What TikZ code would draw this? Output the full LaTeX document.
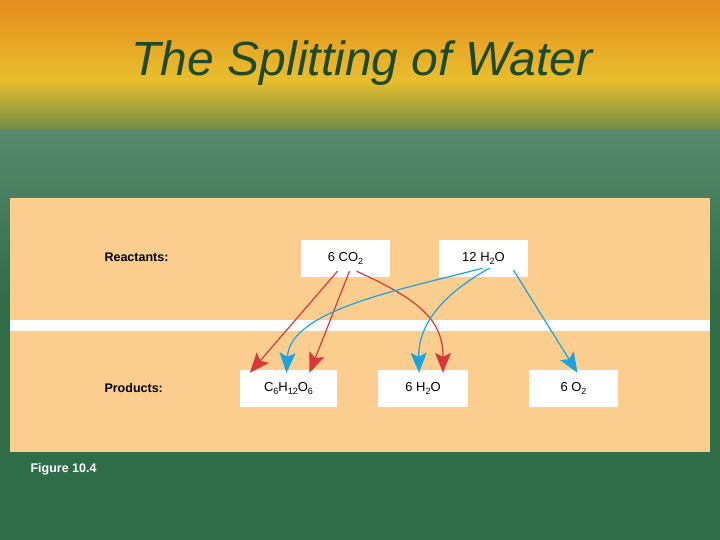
\documentclass[tikz,border=0pt]{standalone}
\usepackage{fontspec}
\setmainfont{Liberation Sans}
\usetikzlibrary{arrows.meta,calc}
\definecolor{peach}{HTML}{FBCD8F}
\definecolor{bggreen}{HTML}{2F6D49}
\definecolor{ttl}{HTML}{1E4A2A}
\definecolor{redA}{HTML}{D8383A}
\definecolor{blueA}{HTML}{1AA3DC}
\newcommand{\sbs}[1]{\raisebox{-2.5pt}{\fontsize{9}{10}\selectfont #1}}
\begin{document}
\begin{tikzpicture}[x=1pt,y=-1pt,
  box/.style={fill=white,minimum width=89pt,minimum height=37pt,inner sep=0pt,font=\fontsize{13}{15}\selectfont},
  lbl/.style={font=\bfseries\fontsize{12.5}{14}\selectfont,anchor=west},
  ra/.style={draw=redA,line width=1.2pt,-{Stealth[length=20pt,width=16pt,inset=4pt,fill=redA]}},
  ba/.style={draw=blueA,line width=1.2pt,-{Stealth[length=20pt,width=16pt,inset=4pt,fill=blueA]}}]
\useasboundingbox (0,0) rectangle (720,540);
\fill[bggreen] (0,0) rectangle (720,540);
\shade[top color=bggreen!80!white,bottom color=bggreen] (0,128) rectangle (720,300);
\shade[top color={rgb,255:red,230;green,140;blue,30},bottom color={rgb,255:red,232;green,190;blue,45}] (0,0) rectangle (720,80);
\shade[top color={rgb,255:red,232;green,190;blue,45},bottom color={rgb,255:red,110;green,140;blue,70}] (0,80) rectangle (720,130);
\node[font=\itshape\fontsize{48}{54}\selectfont,text=ttl] (title) at (362,63) {The Splitting of Water};
\fill[peach] (10,198) rectangle (710,452);
\fill[white] (10,320) rectangle (710,331);
\node[lbl] (react) at (101,257) {Reactants:};
\node[lbl] (prod) at (101,388) {Products:};
\node[lbl,text=white] (fig) at (27,469) {Figure 10.4};
\node[box] (co2) at (345.5,258.5) {6 CO\sbs{2}};
\node[box] (h2o) at (483.5,258.5) {12 H\sbs{2}O};
\node[box,minimum width=97pt] (glu) at (288.5,388.5) {C\sbs{6}H\sbs{12}O\sbs{6}};
\node[box,minimum width=90pt] (wat) at (423,388.5) {6 H\sbs{2}O};
\node[box] (o2) at (573.5,388.5) {6 O\sbs{2}};
\draw[ra] ($(co2.south)+(-8,-6)$) -- ($(glu.north west)+(10,3)$);
\draw[ra] ($(co2.south)+(4,-6)$) -- ($(glu.north)+(21,3)$);
\draw[ra] ($(co2.south)+(11,-6)$) .. controls (420,300) and (443,320) .. ($(wat.north)+(20,3)$);
\draw[ba] ($(h2o.south)+(-1,-9)$) .. controls (400,290) and (290,310) .. ($(glu.north)+(-2,3)$);
\draw[ba] ($(h2o.south)+(6,-9)$) .. controls (450,290) and (418,320) .. ($(wat.north)+(-4,3)$);
\draw[ba] ($(h2o.south)+(30,-7)$) -- ($(o2.north)+(4,3)$);
\end{tikzpicture}
\end{document}
